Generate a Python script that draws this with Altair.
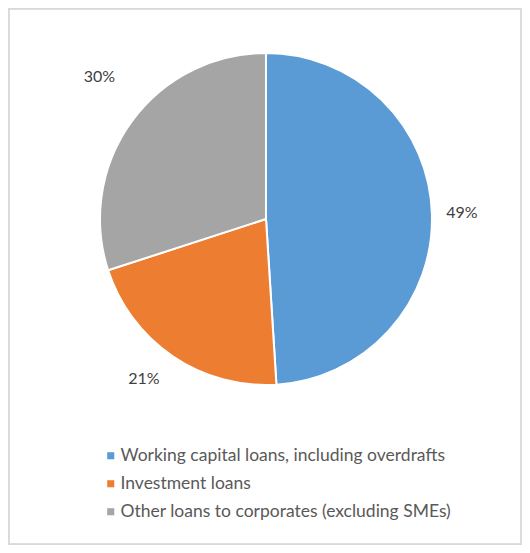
import altair as alt
import pandas as pd

categories = ["Working capital loans, including overdrafts", "Investment loans",
              "Other loans to corporates (excluding SMEs)"]
values = [49, 21, 30]
labels = ["49%", "21%", "30%"]
colors = ["#5B9BD5", "#ED7D31", "#A5A5A5"]

df = pd.DataFrame({"cat": categories, "value": values, "label": labels,
                   "idx": list(range(len(categories)))})

W, H = 514, 537
CX, CY = 258, 211
R = 166
FONT = "Lato"

pie = alt.Chart(df).mark_arc(outerRadius=R, stroke="white", strokeWidth=2).encode(
    theta=alt.Theta("value:Q", stack=True, scale=alt.Scale(domain=[0, 100])),
    order=alt.Order("idx:Q", sort="ascending"),
    color=alt.Color("cat:N", scale=alt.Scale(domain=categories, range=colors),
                    sort=categories,
                    legend=alt.Legend(title=None, orient="none", legendX=94, legendY=439,
                                      symbolType="square", symbolSize=50,
                                      symbolStrokeWidth=0,
                                      labelFont=FONT, labelFontSize=17.5,
                                      labelColor="#595959", rowPadding=9,
                                      labelLimit=500, labelOffset=1)),
    x=alt.value(CX), y=alt.value(CY),
)

offsets = {"49%": (0, 0), "21%": (-12, -2), "30%": (-8, -27)}
texts = []
for lab in labels:
    dx, dy = offsets[lab]
    texts.append(
        alt.Chart(df)
        .transform_window(cum="sum(value)", sort=[alt.SortField("idx", order="ascending")])
        .transform_calculate(mid="datum.cum - datum.value / 2")
        .transform_filter(alt.datum.label == lab)
        .mark_text(radius=196, font=FONT, fontSize=16, color="#404040", dx=dx, dy=dy)
        .encode(theta=alt.Theta("mid:Q", stack=None, scale=alt.Scale(domain=[0, 100])),
                text="label:N", x=alt.value(CX), y=alt.value(CY))
    )

border = alt.Chart(df).mark_rect(filled=False, stroke="#D9D9D9", strokeWidth=1.5).encode(
    x=alt.value(0.75), x2=alt.value(W - 0.75), y=alt.value(0.75), y2=alt.value(H - 0.75)
)

chart = alt.layer(border, pie, *texts).properties(
    width=W, height=H, autosize=alt.AutoSizeParams(type="none"), padding=0
).configure_view(stroke=None).configure(background="white")

chart.save("out.html", embed_options={"renderer": "svg", "actions": False})
